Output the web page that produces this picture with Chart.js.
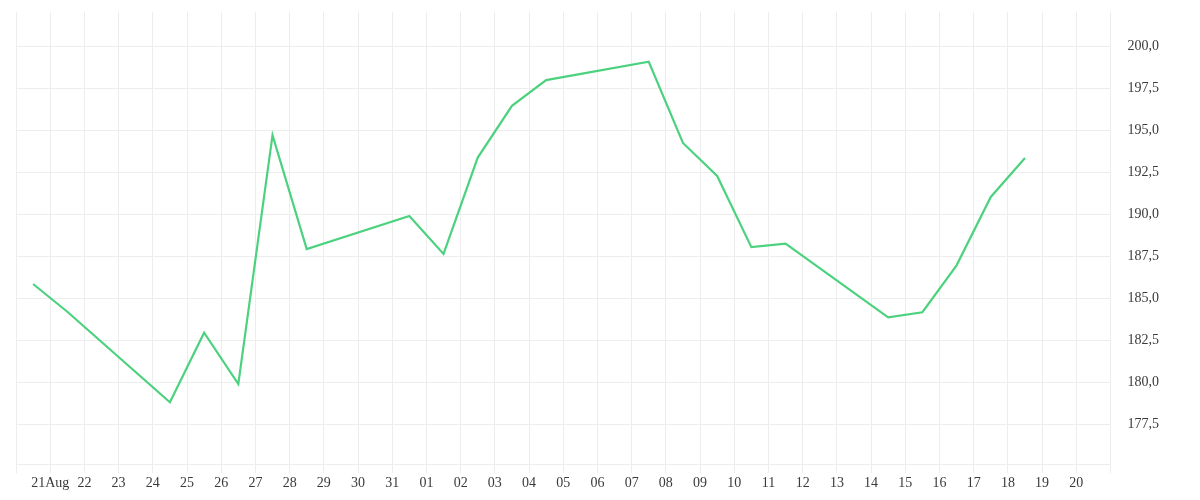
<!DOCTYPE html>
<html lang="en">
<head>
    <meta charset="UTF-8">
    <title>Price chart</title>
    <script src="https://cdn.jsdelivr.net/npm/chart.js"></script>
    <style>
        html, body { margin: 0; padding: 0; background: #fff; }
        #wrap { width: 1200px; height: 500px; }
    </style>
</head>
<body>
    <div id="wrap"><canvas id="priceChart"></canvas></div>

    <script>
        // day offsets from 20 Aug (points sit at midday)
        const dayOffsets = [0.5, 1.5, 4.5, 5.5, 6.5, 7.5, 8.5, 11.5, 12.5, 13.5, 14.5, 15.5,
                            18.5, 19.5, 20.5, 21.5, 22.5, 25.5, 26.5, 27.5, 28.5, 29.5];
        const prices = [185.85, 184.20, 178.81, 182.95, 179.90, 194.70, 187.93, 189.90, 187.64, 193.37, 196.45, 197.98,
                        199.07, 194.24, 192.28, 188.04, 188.25, 183.87, 184.17, 186.96, 191.03, 193.35];

        // one label per day tick, 20 Aug .. 21 Sep
        const dayLabels = ["", "21Aug", "22", "23", "24", "25", "26", "27", "28", "29", "30", "31",
                           "01", "02", "03", "04", "05", "06", "07", "08", "09", "10",
                           "11", "12", "13", "14", "15", "16", "17", "18", "19", "20", ""];

        const yMin = 175.13;
        const yMax = 202.03;
        const yStep = 2.5;

        const gridColor = "#ededed";
        const textFont = { family: "'Liberation Serif', serif", size: 14 };

        let ctx = document.getElementById("priceChart").getContext("2d");

        new Chart(ctx, {
            type: "line",
            data: {
                datasets: [{
                    data: dayOffsets.map((d, i) => ({ x: d, y: prices[i] })),
                    borderColor: "#4cd27e",
                    borderWidth: 2.2,
                    pointRadius: 0,
                    tension: 0,
                    fill: false
                }]
            },
            options: {
                responsive: true,
                maintainAspectRatio: false,
                animation: false,
                layout: { padding: { top: 12, left: 16, right: 38, bottom: 6 } },
                plugins: {
                    legend: { display: false },
                    tooltip: { enabled: false }
                },
                scales: {
                    x: {
                        type: "linear",
                        min: 0,
                        max: dayLabels.length - 1,
                        grid: { color: gridColor, tickLength: 9 },
                        border: { color: gridColor },
                        ticks: {
                            stepSize: 1,
                            autoSkip: false,
                            maxRotation: 0,
                            minRotation: 0,
                            padding: 2,
                            color: "#3a3a3a",
                            font: textFont,
                            callback: value => dayLabels[value]
                        }
                    },
                    y: {
                        position: "right",
                        min: yMin,
                        max: yMax,
                        grid: { color: gridColor, tickLength: 14, tickColor: "rgba(0,0,0,0)" },
                        border: { color: gridColor },
                        afterBuildTicks: axis => {
                            axis.ticks = axis.ticks.filter(t => Math.abs(t.value / yStep - Math.round(t.value / yStep)) < 1e-6);
                        },
                        ticks: {
                            stepSize: yStep,
                            padding: 3,
                            color: "#3a3a3a",
                            font: textFont,
                            callback: value => value.toFixed(1).replace(".", ",")
                        }
                    }
                }
            }
        });
    </script>
</body>
</html>
